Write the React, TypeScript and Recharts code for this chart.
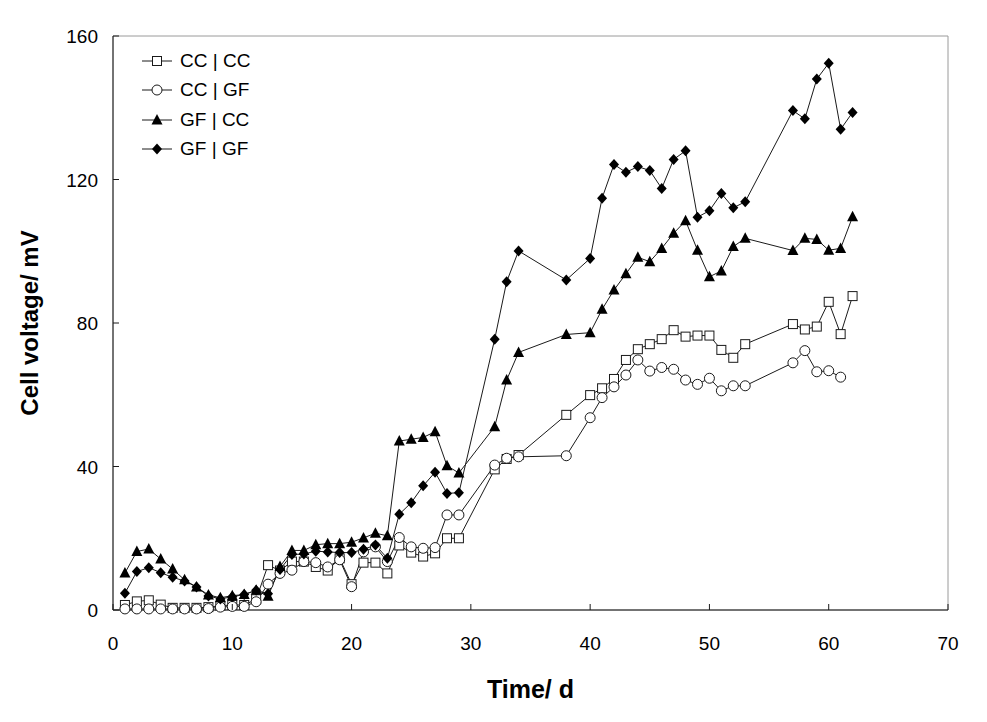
import { LineChart, Line, XAxis, YAxis, ReferenceArea, Legend } from "recharts";

const FONT = '"Liberation Sans", Arial, sans-serif';

const ccccDays = [1, 2, 3, 4, 5, 6, 7, 8, 9, 10, 11, 12, 13, 14, 15, 16, 17, 18, 19, 20, 21, 22, 23, 24, 25, 26, 27, 28, 29, 32, 33, 34, 38, 40, 41, 42, 43, 44, 45, 46, 47, 48, 49, 50, 51, 52, 53, 57, 58, 59, 60, 61, 62];
const ccccValues = [1.4, 2.4, 2.7, 1.5, 0.6, 0.6, 0.6, 0.8, 1.2, 1.4, 1.4, 3, 12.5, 11, 13.5, 13.5, 12, 11, 14.4, 7.2, 13.2, 13.2, 10.2, 18, 16, 14.9, 15.8, 20, 20, 39.2, 42.1, 43.2, 54.4, 59.9, 61.8, 64.4, 69.7, 72.7, 74.1, 75.5, 78, 76.2, 76.5, 76.5, 72.5, 70.3, 74.1, 79.7, 78.2, 79, 85.9, 76.9, 87.5];

const ccgfDays = [1, 2, 3, 4, 5, 6, 7, 8, 9, 10, 11, 12, 13, 14, 15, 16, 17, 18, 19, 20, 21, 22, 23, 24, 25, 26, 27, 28, 29, 32, 33, 34, 38, 40, 41, 42, 43, 44, 45, 46, 47, 48, 49, 50, 51, 52, 53, 57, 58, 59, 60, 61];
const ccgfValues = [0.3, 0.3, 0.3, 0.3, 0.3, 0.3, 0.3, 0.4, 0.8, 1, 1, 2.3, 7.2, 10.2, 11.1, 13.5, 13.2, 12, 14, 6.5, 16.2, 17.6, 13.5, 20.2, 17.6, 17.2, 17.4, 26.5, 26.5, 40.4, 42.3, 42.7, 43, 53.6, 59.2, 62.2, 65.5, 69.7, 66.6, 67.6, 67.1, 64.1, 62.9, 64.6, 61.1, 62.5, 62.5, 68.9, 72.3, 66.4, 66.7, 64.9];

const gfccDays = [1, 2, 3, 4, 5, 6, 7, 8, 9, 10, 11, 12, 13, 14, 15, 16, 17, 18, 19, 20, 21, 22, 23, 24, 25, 26, 27, 28, 29, 32, 33, 34, 38, 40, 41, 42, 43, 44, 45, 46, 47, 48, 49, 50, 51, 52, 53, 57, 58, 59, 60, 61, 62];
const gfccValues = [10.3, 16.3, 17, 14.2, 11.4, 8.4, 6.4, 4.2, 3.4, 4, 4.3, 5.5, 3.8, 12.1, 16.6, 16.6, 18.2, 18.5, 18.5, 18.9, 20.1, 21.4, 20.7, 47.1, 47.6, 48.1, 49.7, 40.2, 38.2, 51.1, 64.1, 71.8, 76.8, 77.3, 83.8, 89.2, 93.7, 98.3, 97.1, 100.8, 105, 108.5, 100.3, 92.9, 94.5, 101.3, 103.6, 100.2, 103.6, 103.3, 100.3, 100.8, 109.6];

const gfgfDays = [1, 2, 3, 4, 5, 6, 7, 8, 9, 10, 11, 12, 13, 14, 15, 16, 17, 18, 19, 20, 21, 22, 23, 24, 25, 26, 27, 28, 29, 32, 33, 34, 38, 40, 41, 42, 43, 44, 45, 46, 47, 48, 49, 50, 51, 52, 53, 57, 58, 59, 60, 61, 62];
const gfgfValues = [4.7, 10.7, 11.8, 10.4, 9.1, 8.1, 6.4, 3.9, 3.1, 3.7, 4.3, 5.5, 4.5, 11.3, 15.5, 15.6, 16.4, 16.2, 16, 16, 16.9, 18.1, 14.4, 26.7, 29.9, 34.6, 38.4, 32.5, 32.7, 75.5, 91.5, 100.1, 92, 98, 114.8, 124.2, 122, 123.6, 122.5, 117.5, 125.6, 128, 109.5, 111.3, 116.1, 112.1, 113.8, 139.2, 136.9, 148, 152.4, 134, 138.7];

const xTicks = [0, 10, 20, 30, 40, 50, 60, 70];
const yTicks = [0, 40, 80, 120, 160];

const toRows = (days: number[], values: number[]) =>
  days.map((d, i) => ({ day: d, v: values[i] }));

const series = [
  { name: "CC | CC", shape: "square", data: toRows(ccccDays, ccccValues) },
  { name: "CC | GF", shape: "circle", data: toRows(ccgfDays, ccgfValues) },
  { name: "GF | CC", shape: "triangle", data: toRows(gfccDays, gfccValues) },
  { name: "GF | GF", shape: "diamond", data: toRows(gfgfDays, gfgfValues) },
];

const INK = "#1a1a1a";

function Marker({ shape, cx, cy }: { shape: string; cx: number; cy: number }) {
  if (shape === "square")
    return <rect x={cx - 4.5} y={cy - 4.5} width={9} height={9} fill="#fff" stroke={INK} strokeWidth={1} />;
  if (shape === "circle")
    return <circle cx={cx} cy={cy} r={5} fill="#fff" stroke={INK} strokeWidth={1} />;
  if (shape === "triangle")
    return <polygon points={`${cx},${cy - 6} ${cx - 5.5},${cy + 4.5} ${cx + 5.5},${cy + 4.5}`} fill="#000" />;
  return <polygon points={`${cx},${cy - 5.5} ${cx + 5},${cy} ${cx},${cy + 5.5} ${cx - 5},${cy}`} fill="#000" />;
}

const makeDot = (shape: string) => (props: any) => {
  const { cx, cy, index } = props;
  if (cx == null || cy == null) return <g key={index} />;
  return (
    <g key={`${shape}-${index}`}>
      <Marker shape={shape} cx={cx} cy={cy} />
    </g>
  );
};

const XTick = ({ x, y, payload }: any) => (
  <g>
    <line x1={x} x2={x} y1={y} y2={y - 6} stroke={INK} />
    <text x={x} y={y + 40} textAnchor="middle" fontSize={19} fontFamily={FONT} fill="#000">
      {payload.value}
    </text>
  </g>
);

const YTick = ({ x, y, payload }: any) => (
  <g>
    <line x1={x} x2={x + 6} y1={y} y2={y} stroke={INK} />
    <text x={x - 15} y={y + 7} textAnchor="end" fontSize={19} fontFamily={FONT} fill="#000">
      {payload.value}
    </text>
  </g>
);

const YLabel = ({ viewBox }: any) => {
  const cx = viewBox.x + 29;
  const cy = viewBox.y + viewBox.height / 2;
  return (
    <text
      x={cx}
      y={cy}
      transform={`rotate(-90 ${cx} ${cy})`}
      textAnchor="middle"
      dominantBaseline="central"
      fontSize={24}
      fontWeight="bold"
      fontFamily={FONT}
      fill="#000"
    >
      Cell voltage/ mV
    </text>
  );
};

const LegendBox = () => (
  <div style={{ fontFamily: FONT, fontSize: 19, color: "#000" }}>
    {series.map((s) => (
      <div key={s.name} style={{ display: "flex", alignItems: "center", height: 29.5 }}>
        <svg width={36} height={20} style={{ display: "block" }}>
          <line x1={2} x2={32} y1={10} y2={10} stroke={INK} />
          <Marker shape={s.shape} cx={17} cy={10} />
        </svg>
        <span style={{ marginLeft: 4, whiteSpace: "nowrap" }}>{s.name}</span>
      </div>
    ))}
  </div>
);

export default function App() {
  return (
    <div style={{ position: "absolute", left: 0, top: 0, width: 987, height: 722, background: "#fff" }}>
      <LineChart width={987} height={722} margin={{ top: 36, right: 39, bottom: 0, left: 0 }}>
        <ReferenceArea x1={0} x2={70} y1={0} y2={160} fill="none" stroke="#9a9a9a" strokeWidth={1} />
        <XAxis
          type="number"
          dataKey="day"
          domain={[0, 70]}
          ticks={xTicks}
          height={112}
          tickSize={0}
          tickMargin={0}
          tickLine={false}
          axisLine={{ stroke: INK }}
          tick={<XTick />}
          allowDuplicatedCategory={false}
          label={{
            value: "Time/ d",
            position: "insideBottom",
            offset: 24,
            fontSize: 25,
            fontWeight: "bold",
            fontFamily: FONT,
            fill: "#000",
          }}
        />
        <YAxis
          type="number"
          dataKey="v"
          domain={[0, 160]}
          ticks={yTicks}
          width={113}
          tickSize={0}
          tickMargin={0}
          tickLine={false}
          axisLine={{ stroke: INK }}
          tick={<YTick />}
          label={<YLabel />}
        />
        <Legend
          layout="vertical"
          align="center"
          verticalAlign="middle"
          wrapperStyle={{ left: 140, top: 46, width: 160 }}
          content={<LegendBox />}
        />
        {series.map((s) => (
          <Line
            key={s.name}
            data={s.data}
            dataKey="v"
            name={s.name}
            type="linear"
            stroke={INK}
            strokeWidth={1}
            dot={makeDot(s.shape)}
            activeDot={false}
            isAnimationActive={false}
          />
        ))}
      </LineChart>
    </div>
  );
}
